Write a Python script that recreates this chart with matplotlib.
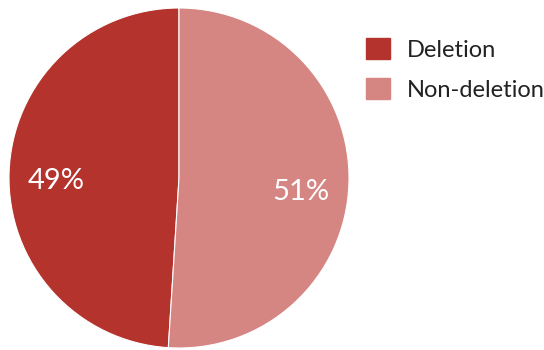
import matplotlib.pyplot as plt
import matplotlib.patches as mpatches

# Anteile in Prozent
categories = ['Deletion', 'Non-deletion']
shares = [49, 51]
colors = ['#B5332D', '#D58582']

plt.rcParams['font.family'] = ['Lato', 'DejaVu Sans']

fig = plt.figure(figsize=(5.44, 3.5), dpi=100, facecolor='white')
# Kreis: Mittelpunkt (179, 178) px, Radius 170 px
ax = fig.add_axes([9 / 544, 2 / 350, 340 / 544, 340 / 350])

wedges, texts, autotexts = ax.pie(
    shares,
    colors=colors,
    startangle=90,
    autopct=lambda p: f'{p:.0f}%',
    pctdistance=0.72,
    wedgeprops={'linewidth': 0.8, 'edgecolor': 'white'},
    textprops={'color': 'white', 'fontsize': 21},
)
# Prozentwerte etwas tiefer setzen
for at, dy in zip(autotexts, [0.04, 0.06]):
    x, y = at.get_position()
    at.set_position((x, y - dy))

ax.set_xlim(-1, 1)
ax.set_ylim(-1, 1)
ax.set_aspect('equal')

handles = [mpatches.Patch(color=c, label=l) for c, l in zip(colors, categories)]
fig.legend(
    handles=handles,
    loc='upper left',
    bbox_to_anchor=(345 / 544, 1 - 17 / 350),
    frameon=False,
    fontsize=17,
    handlelength=1.0,
    handleheight=1.0,
    handletextpad=0.7,
    labelspacing=0.72,
    labelcolor='#222222',
)

fig.savefig('out.png', dpi=100, facecolor='white')
